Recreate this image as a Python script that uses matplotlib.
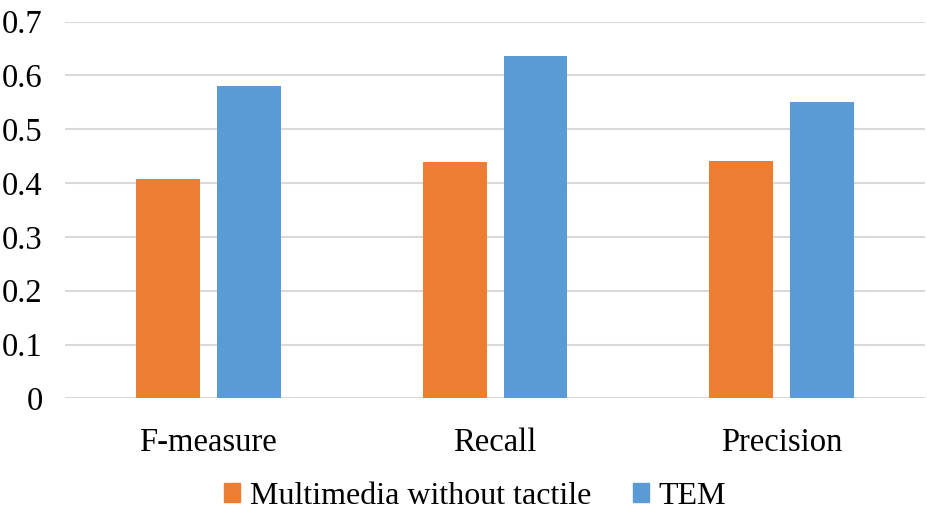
import numpy as np
import matplotlib
matplotlib.use('Agg')
import matplotlib.pyplot as plt
from matplotlib.patches import Patch

categories = ['F-measure', 'Recall', 'Precision']
series_names = ['Multimedia without tactile', 'TEM']
multimedia = [0.407, 0.439, 0.44]
tem = [0.58, 0.636, 0.55]
yticks = [0, 0.1, 0.2, 0.3, 0.4, 0.5, 0.6, 0.7]
ytick_labels = ['0', '0.1', '0.2', '0.3', '0.4', '0.5', '0.6', '0.7']

colors = ['#ED7D31', '#5B9BD5']

plt.rcParams['font.family'] = ['Liberation Serif', 'DejaVu Serif']

fig = plt.figure(figsize=(9.28, 5.12), dpi=100)
ax = fig.add_axes([0.070, 0.222, 0.927, 0.736])

x = np.arange(len(categories))
w = 0.223
off = 0.141
ax.bar(x - off, multimedia, w, color=colors[0], zorder=3)
ax.bar(x + off, tem, w, color=colors[1], zorder=3)

ax.set_xlim(-0.5, len(categories) - 0.5)
ax.set_ylim(0, 0.7)
ax.set_yticks(yticks)
ax.set_yticklabels(ytick_labels)
ax.set_xticks(x)
ax.set_xticklabels(categories)
ax.tick_params(axis='both', length=0, labelsize=23.5, colors='black')
ax.tick_params(axis='y', pad=16)
ax.tick_params(axis='x', pad=21)
ax.grid(axis='y', color='#D9D9D9', linewidth=1.5, zorder=0)
ax.set_axisbelow(True)
for s in ax.spines.values():
    s.set_visible(False)

handles = [Patch(color=c) for c in colors]
fig.legend(handles, series_names, loc='center', bbox_to_anchor=(0.512, 0.03),
           ncol=2, frameon=False, fontsize=23, handlelength=0.5, handleheight=0.55,
           handletextpad=0.3, columnspacing=1.3)

fig.savefig('out.png', dpi=100)
